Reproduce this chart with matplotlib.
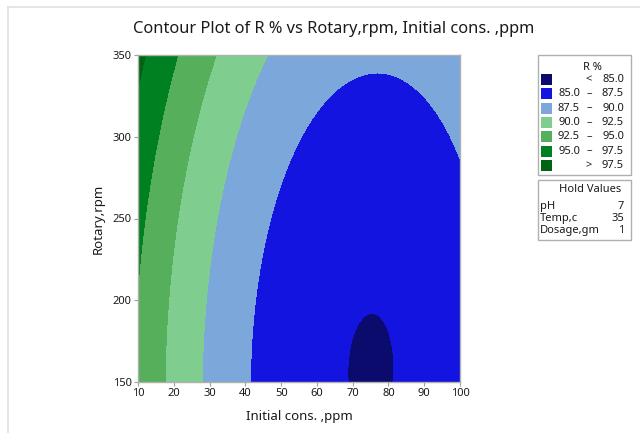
import numpy as np
import matplotlib.pyplot as plt
from matplotlib.lines import Line2D
from matplotlib.patches import Rectangle

plt.rcParams['font.family'] = ['Noto Sans', 'DejaVu Sans']

# fitted response surface for R %, uncoded units (x = Initial cons., y = Rotary)
b0 = 99.2788
bx = -0.3381
by = -0.021374
bxx = 0.0023
byy = 7.888e-5
bxy = -4.6e-5

x_range = [10, 100]
y_range = [150, 350]
x_ticks = [10, 20, 30, 40, 50, 60, 70, 80, 90, 100]
y_ticks = [150, 200, 250, 300, 350]

levels = [85.0, 87.5, 90.0, 92.5, 95.0, 97.5]
band_colors = ['#0b0b6e', '#1414e0', '#7ba7da', '#80cd90', '#55af5b', '#008020', '#006414']
legend_rows = [('', '<', '85.0'), ('85.0', '–', '87.5'), ('87.5', '–', '90.0'),
               ('90.0', '–', '92.5'), ('92.5', '–', '95.0'), ('95.0', '–', '97.5'),
               ('', '>', '97.5')]

hold_names = ['pH', 'Temp,c', 'Dosage,gm']
hold_values = ['7', '35', '1']

W, H = 640, 433
fig = plt.figure(figsize=(W / 100, H / 100), dpi=100)


def fx(px):
    return px / W


def fy(py):
    return 1 - py / H


ax = fig.add_axes([fx(138), fy(382), fx(460) - fx(138), fy(55) - fy(382)])

xs = np.linspace(x_range[0], x_range[1], 400)
ys = np.linspace(y_range[0], y_range[1], 400)
X, Y = np.meshgrid(xs, ys)
Z = b0 + bx * X + by * Y + bxx * X ** 2 + byy * Y ** 2 + bxy * X * Y
all_levels = [Z.min() - 1] + levels + [Z.max() + 1]
ax.contourf(X, Y, Z, levels=all_levels, colors=band_colors)

txt = '#1a1a1a'
ax.set_xlim(x_range)
ax.set_ylim(y_range)
ax.set_xticks(x_ticks)
ax.set_yticks(y_ticks)
ax.tick_params(direction='out', length=3, width=0.8, color='#a0a0a0',
               labelsize=8, labelcolor=txt, pad=1.5)
for s in ax.spines.values():
    s.set_color('#b0b0b0')
    s.set_linewidth(1.0)
ax.set_xlabel('Initial cons. ,ppm', fontsize=9.5, color=txt, labelpad=8)
ax.set_ylabel('Rotary,rpm', fontsize=9.5, color=txt, labelpad=6)

fig.text(fx(334), fy(29), 'Contour Plot of R % vs Rotary,rpm, Initial cons. ,ppm',
         ha='center', va='center', fontsize=11.8, color=txt)

# outer frame lines
fig.add_artist(Line2D([fx(8), 1], [fy(7), fy(7)], color='#e0e0e0', lw=1.2))
fig.add_artist(Line2D([fx(8), fx(8)], [fy(7), 0], color='#e0e0e0', lw=1.2))

# legend box
fig.add_artist(Rectangle((fx(538), fy(175)), fx(631) - fx(538), fy(55) - fy(175),
                         fill=False, edgecolor='#b0b0b0', lw=1.0))
fig.text(fx(592), fy(68), 'R %', ha='center', va='center', fontsize=8, color=txt)
for i, (lo, sym, hi) in enumerate(legend_rows):
    yc = 79.5 + i * 14.3
    fig.add_artist(Rectangle((fx(541), fy(yc + 5.5)), fx(552) - fx(541), fy(yc - 5.5) - fy(yc + 5.5),
                             facecolor=band_colors[i], edgecolor='none'))
    if lo:
        fig.text(fx(580), fy(yc), lo, ha='right', va='center', fontsize=8, color=txt)
    fig.text(fx(592), fy(yc), sym, ha='right', va='center', fontsize=8, color=txt)
    fig.text(fx(624), fy(yc), hi, ha='right', va='center', fontsize=8, color=txt)

# hold values box
fig.add_artist(Rectangle((fx(538), fy(240)), fx(631) - fx(538), fy(180) - fy(240),
                         fill=False, edgecolor='#b0b0b0', lw=1.0))
fig.text(fx(590), fy(190), 'Hold Values', ha='center', va='center', fontsize=8, color=txt)
for i, (name, val) in enumerate(zip(hold_names, hold_values)):
    yc = 206.5 + i * 11.8
    fig.text(fx(540), fy(yc), name, ha='left', va='center', fontsize=8, color=txt)
    fig.text(fx(624), fy(yc), val, ha='right', va='center', fontsize=8, color=txt)

fig.savefig('out.png', dpi=100)
